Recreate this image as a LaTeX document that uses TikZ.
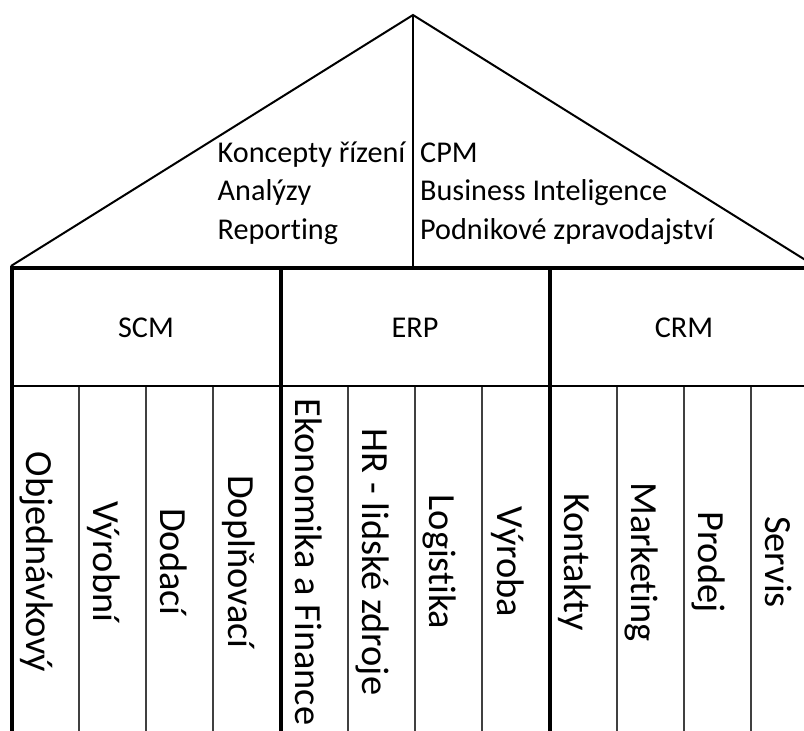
\documentclass[tikz,border=0pt]{standalone}
\usepackage{fontspec}
\setmainfont{Carlito}[RawFeature={-liga;-clig;-dlig}]
\begin{document}
\begin{tikzpicture}[x=1pt,y=-1pt,
  toptext/.style={anchor=base west,inner sep=0pt,font=\fontsize{30.2}{36}\selectfont},
  headtext/.style={anchor=base,inner sep=0pt,font=\fontsize{30.2}{36}\selectfont},
  coltext/.style={anchor=base,inner sep=0pt,rotate=-90,font=\fontsize{38.4}{46}\selectfont},
  roof/.style={line width=2pt,line join=miter},
  frame/.style={line width=4pt,line join=miter},
  headline/.style={line width=2.2pt},
  subline/.style={line width=1.4pt,draw=black!75},
]
\useasboundingbox (0,0) rectangle (804,731);
\begin{scope}
\clip (0,0) rectangle (804,731);
% coordinates
\coordinate (apex) at (413,15);
\coordinate (bl) at (11,266);
\coordinate (br) at (815,266);
\coordinate (mid) at (413,268);
% sub-column lines
\foreach \x in {79,146,213,348,415,482,617,684,751}
  \draw[subline] (\x,386) -- (\x,740);
% roof
\draw[roof] (bl) -- (apex) -- (br);
\draw[roof] (apex) -- (mid);
% header bottom line
\draw[headline] (12,386) -- (822,386);
% frame and main dividers
\draw[frame] (12,740) -- (12,268) -- (822,268);
\draw[frame] (281,268) -- (281,740);
\draw[frame] (550,268) -- (550,740);
\draw[frame] (818,268) -- (818,740);
\end{scope}
% roof texts
\node[toptext] (t1) at (217.5,162) {Koncepty řízení};
\node[toptext] (t2) at (217.5,200.5) {Analýzy};
\node[toptext] (t3) at (217.5,239) {Report\kern0pt ing};
\node[toptext] (t4) at (420,162) {CPM};
\node[toptext] (t5) at (420,200.5) {Business Inteligence};
\node[toptext] (t6) at (420,239) {Podnikové zpravodajství};
% headers
\node[headtext] (scm) at (146,337.5) {SCM};
\node[headtext] (erp) at (415,337.5) {ERP};
\node[headtext] (crm) at (684,337.5) {CRM};
% column texts
\node[coltext] (c1) at (26.5,562) {Objednávkový};
\node[coltext] (c2) at (93.5,562) {Výrobní};
\node[coltext] (c3) at (160.5,562) {Dodací};
\node[coltext] (c4) at (228,562) {Doplňovací};
\node[coltext] (c5) at (295.5,562) {Ekonomika a Finance};
\node[coltext] (c6) at (362.5,562) {HR - lidské zdroje};
\node[coltext] (c7) at (429.5,562) {Logist\kern0pt ika};
\node[coltext] (c8) at (497,562) {Výroba};
\node[coltext] (c9) at (564.5,562) {Kontakty};
\node[coltext] (c10) at (631.5,562) {Market\kern0pt ing};
\node[coltext] (c11) at (698.5,562) {Prodej};
\node[coltext] (c12) at (765.5,562) {Servis};
\end{tikzpicture}
\end{document}
